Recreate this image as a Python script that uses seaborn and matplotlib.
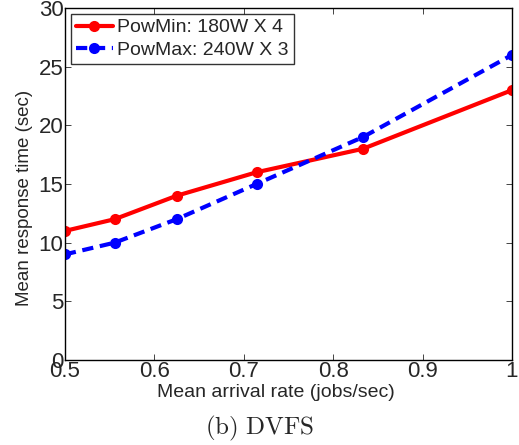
import pandas as pd
import seaborn as sns
import matplotlib
matplotlib.use("Agg")
import matplotlib.pyplot as plt

# Datos
tasa_llegada = [0.5, 0.5556, 0.625, 0.7143, 0.8333, 1.0]
resp_powmin = [11, 12, 14, 16, 18, 23]
resp_powmax = [9, 10, 12, 15, 19, 26]
series = ["PowMin: 180W X 4", "PowMax: 240W X 3"]
colores = ["#ff0000", "#0000ff"]
x_ticks = [0.5, 0.6, 0.7, 0.8, 0.9, 1.0]
x_tick_labels = ["0.5", "0.6", "0.7", "0.8", "0.9", "1"]
y_ticks = [0, 5, 10, 15, 20, 25, 30]

df = pd.DataFrame(
    {
        "tasa": tasa_llegada * 2,
        "resp": resp_powmin + resp_powmax,
        "serie": [series[0]] * len(tasa_llegada) + [series[1]] * len(tasa_llegada),
    }
)

sns.set_style("ticks")
plt.rcParams["font.family"] = ["Liberation Sans", "DejaVu Sans"]
plt.rcParams["mathtext.fontset"] = "cm"

fig = plt.figure(figsize=(5.19, 4.45), dpi=100)
ax = fig.add_axes([0.125, 0.191, 0.8615, 0.791])

sns.lineplot(
    data=df,
    x="tasa",
    y="resp",
    hue="serie",
    hue_order=series,
    palette=colores,
    marker="o",
    markersize=6.5,
    markeredgewidth=1.5,
    linewidth=3,
    legend=False,
    ax=ax,
)

# linea azul discontinua, marcadores sin borde blanco
lineas = ax.get_lines()
lineas[1].set_dashes((2.7, 1.6))
for ln, lbl, c in zip(lineas, series, colores):
    ln.set_label(lbl)
    ln.set_markeredgecolor(c)
    ln.set_markerfacecolor(c)

ax.set_xlim(0.5, 1.0)
ax.set_ylim(0, 30)
ax.set_xticks(x_ticks)
ax.set_xticklabels(x_tick_labels)
ax.set_yticks(y_ticks)
ax.tick_params(direction="in", length=4, width=0.6, labelsize=16, top=True, right=True, pad=1)
for s in ax.spines.values():
    s.set_linewidth(1.0)
    s.set_color("black")

ax.set_xlabel("Mean arrival rate (jobs/sec)", fontsize=14)
ax.set_ylabel("Mean response time (sec)", fontsize=13.5)
ax.xaxis.set_label_coords(0.472, -0.068)
ax.yaxis.set_label_coords(-0.072, 0.46)

leg = ax.legend(
    handles=lineas[:2],
    loc="upper left",
    fontsize=14,
    frameon=True,
    fancybox=False,
    edgecolor="black",
    borderaxespad=0.3,
    handlelength=1.9,
    handletextpad=0.25,
    borderpad=0.25,
    labelspacing=0.25,
)
leg.get_frame().set_linewidth(1.0)

fig.text(0.5, 0.038, r"$\mathrm{(b)\ DVFS}$", ha="center", va="center", fontsize=18)

fig.savefig("out.png", dpi=100)
